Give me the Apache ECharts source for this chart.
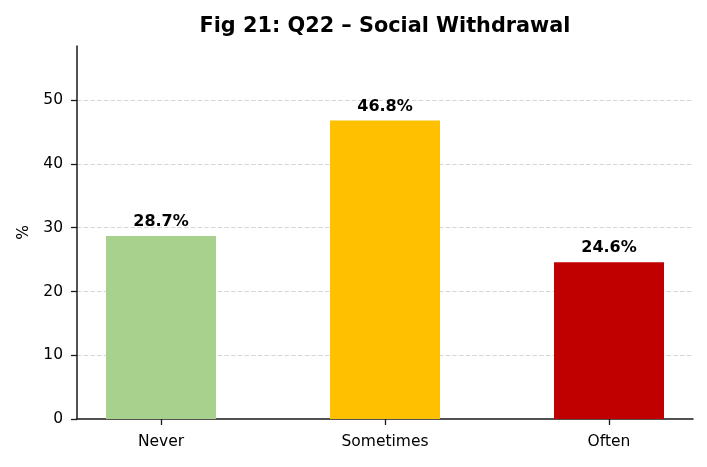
<!DOCTYPE html>
<html>
<head>
<meta charset="utf-8">
<script src="https://cdn.jsdelivr.net/npm/echarts@6/dist/echarts.min.js"></script>
<style>
  html, body { margin: 0; padding: 0; background: #ffffff; }
  #chart { width: 707px; height: 467px; }
</style>
</head>
<body>
<div id="chart"></div>
<script>
const categories = ['Never', 'Sometimes', 'Often'];
const values = [28.7, 46.8, 24.6];
const colors = ['#a9d18e', '#ffc000', '#c00000'];
const yTicks = [0, 10, 20, 30, 40, 50];
const titleText = 'Fig 21: Q22 \u2013 Social Withdrawal';
const yAxisName = '%';

const font = 'DejaVu Sans';
const chart = echarts.init(document.getElementById('chart'), null, { renderer: 'canvas' });

const catIndex = categories.map((c, i) => i);

chart.setOption({
  animation: false,
  backgroundColor: '#ffffff',
  title: {
    text: titleText,
    left: 380,
    top: 11,
    textAlign: 'center',
    textStyle: { fontFamily: font, fontWeight: 'bold', fontSize: 20.8, color: '#000000' }
  },
  grid: { left: 77, right: 14, top: 46, bottom: 48, containLabel: false },
  xAxis: {
    type: 'value',
    min: -0.375,
    max: categories.length - 1 + 0.375,
    axisLine: { show: true, onZero: false, lineStyle: { color: '#1a1a1a', width: 1.5 } },
    axisTick: { show: true, customValues: catIndex, length: 6, lineStyle: { color: '#1a1a1a', width: 1.3 } },
    axisLabel: {
      customValues: catIndex,
      formatter: v => categories[Math.round(v)] || '',
      fontFamily: font, fontSize: 15.5, color: '#000000', margin: 15
    },
    splitLine: { show: false }
  },
  yAxis: {
    type: 'value',
    min: 0,
    max: 58.5,
    interval: 10,
    name: yAxisName,
    nameLocation: 'middle',
    nameRotate: 90,
    nameGap: 44,
    nameTextStyle: { fontFamily: font, fontSize: 15.5, color: '#000000' },
    axisLine: { show: true, onZero: false, lineStyle: { color: '#1a1a1a', width: 1.5 } },
    axisTick: { show: true, inside: false, customValues: yTicks, length: 6, lineStyle: { color: '#1a1a1a', width: 1.3 } },
    axisLabel: {
      customValues: yTicks,
      fontFamily: font, fontSize: 15.5, color: '#000000', margin: 14
    },
    splitLine: {
      show: true,
      showMinLine: false,
      lineStyle: { color: '#d6d6d6', width: 1, type: [4.5, 2.2] }
    }
  },
  series: [{
    type: 'bar',
    barWidth: 110,
    data: values.map((v, i) => ({ value: [i, v], itemStyle: { color: colors[i] } })),
    label: {
      show: true,
      position: 'top',
      distance: 6,
      formatter: p => p.value[1].toFixed(1) + '%',
      fontFamily: font, fontWeight: 'bold', fontSize: 16, color: '#000000'
    }
  }]
});
</script>
</body>
</html>
